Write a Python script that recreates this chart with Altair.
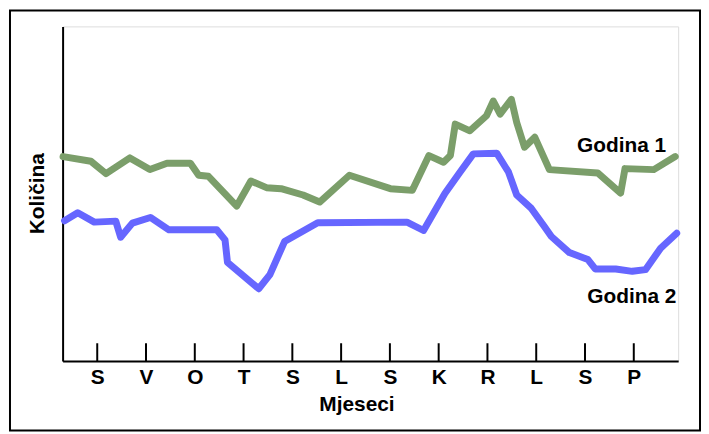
import json
import altair as alt
import pandas as pd

months = ['S', 'V', 'O', 'T', 'S', 'L', 'S', 'K', 'R', 'L', 'S', 'P']
month_pos = list(range(1, 13))

g1_x = [0.30, 0.87, 1.18, 1.67, 2.08, 2.43, 2.91, 3.08, 3.28, 3.86, 4.15, 4.47,
        4.77, 5.22, 5.56, 6.17, 7.01, 7.46, 7.80, 8.10, 8.24, 8.34, 8.64, 8.98,
        9.12, 9.26, 9.49, 9.60, 9.76, 9.97, 10.27, 11.26, 11.73, 11.82, 12.41, 12.85]
g1_y = [61.1, 59.7, 56.0, 60.7, 57.2, 59.1, 59.1, 55.5, 55.2, 46.3, 53.8, 51.8,
        51.5, 49.6, 47.5, 55.5, 51.5, 51.0, 61.4, 59.4, 61.4, 70.8, 68.8, 73.3,
        77.7, 73.8, 78.2, 71.3, 63.9, 66.9, 57.2, 56.2, 50.2, 57.5, 57.2, 61.1]

g2_x = [0.33, 0.60, 0.94, 1.38, 1.48, 1.72, 2.09, 2.47, 3.45, 3.62, 3.67, 4.31,
        4.54, 4.84, 5.52, 7.35, 7.69, 7.97, 8.13, 8.44, 8.71, 9.19, 9.43, 9.60,
        9.90, 10.17, 10.31, 10.68, 11.06, 11.21, 11.63, 11.97, 12.24, 12.55, 12.88]
g2_y = [41.9, 44.3, 41.5, 41.8, 37.0, 41.2, 42.9, 39.2, 39.2, 36.2, 29.5, 21.6,
        25.8, 35.7, 41.3, 41.5, 39.0, 46.1, 50.1, 56.5, 61.9, 62.1, 56.5, 49.6,
        45.6, 40.1, 37.2, 32.4, 30.3, 27.5, 27.5, 26.8, 27.3, 33.7, 38.2]

series_names = ['Godina 1', 'Godina 2']
series_colors = ['#7b9e6a', '#6666ff']
label_x = [11.75, 11.96]
label_y = [62.6, 17.2]

lines_df = pd.concat([
    pd.DataFrame({'x': g1_x, 'y': g1_y, 'series': series_names[0], 'i': range(len(g1_x))}),
    pd.DataFrame({'x': g2_x, 'y': g2_y, 'series': series_names[1], 'i': range(len(g2_x))}),
])
labels_df = pd.DataFrame({'x': label_x, 'y': label_y, 'series': series_names})
ticks_df = pd.DataFrame({'x': month_pos, 'y0': [0] * 12, 'y1': [5.3] * 12})

FONT = 'Liberation Sans'
xscale = alt.Scale(domain=[0.29, 12.91], nice=False, zero=False)
yscale = alt.Scale(domain=[0, 100], nice=False, zero=False)
cscale = alt.Scale(domain=series_names, range=series_colors)

label_expr = json.dumps(months).replace('"', "'") + '[datum.value - 1]'

x_axis = alt.Axis(values=month_pos, labelExpr=label_expr, ticks=False, tickSize=0,
                  grid=False, domainColor='black', domainWidth=2,
                  labelFont=FONT, labelFontSize=21, labelFontWeight='bold',
                  labelColor='black', labelPadding=6, labelFlush=False,
                  title='Mjeseci', titleFont=FONT, titleFontSize=21,
                  titleFontWeight='bold', titleColor='black',
                  titleX=296, titleY=50, titleBaseline='alphabetic', titleAlign='center')
y_axis = alt.Axis(ticks=False, labels=False, grid=False, domainColor='black', domainWidth=2,
                  title='Količina', titleFont=FONT, titleFontSize=21,
                  titleFontWeight='bold', titleColor='black', titleAngle=270,
                  titleX=-19, titleY=168, titleBaseline='alphabetic', titleAlign='center')

lines = alt.Chart(lines_df).mark_line(strokeWidth=7, strokeCap='round', strokeJoin='round').encode(
    x=alt.X('x:Q', scale=xscale, axis=x_axis),
    y=alt.Y('y:Q', scale=yscale, axis=y_axis),
    color=alt.Color('series:N', scale=cscale, legend=None),
    order='i:Q',
)

ticks = alt.Chart(ticks_df).mark_rule(color='black', strokeWidth=2).encode(
    x=alt.X('x:Q', scale=xscale),
    y=alt.Y('y0:Q', scale=yscale),
    y2='y1:Q',
)

texts = alt.Chart(labels_df).mark_text(font=FONT, fontSize=21, fontWeight='bold',
                                       color='black', align='center',
                                       baseline='alphabetic').encode(
    x=alt.X('x:Q', scale=xscale),
    y=alt.Y('y:Q', scale=yscale),
    text='series:N',
)

frame = alt.Chart(pd.DataFrame({'f': [0]})).mark_rect(
    stroke='black', strokeWidth=2, fillOpacity=0).encode(
    x=alt.value(-53), x2=alt.value(642), y=alt.value(-16), y2=alt.value(407))

chart = alt.layer(frame, lines, ticks, texts).properties(
    width=620, height=337,
    padding={'left': 1, 'top': 0, 'right': 0, 'bottom': 0},
).configure_view(stroke=None).configure(background='white')

chart.save('out.html', embed_options={'renderer': 'svg', 'actions': False})
